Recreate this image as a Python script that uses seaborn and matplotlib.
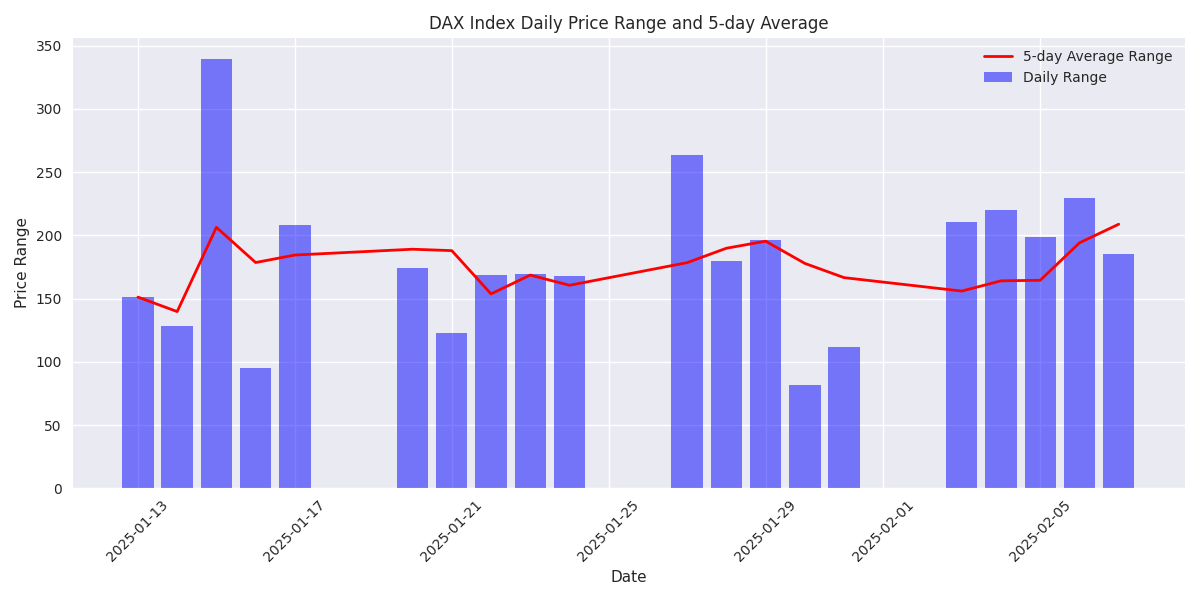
import pandas as pd
import matplotlib.pyplot as plt
import seaborn as sns

# Dados (dias úteis)
dates = ['2025-01-13', '2025-01-14', '2025-01-15', '2025-01-16', '2025-01-17',
         '2025-01-20', '2025-01-21', '2025-01-22', '2025-01-23', '2025-01-24',
         '2025-01-27', '2025-01-28', '2025-01-29', '2025-01-30', '2025-01-31',
         '2025-02-03', '2025-02-04', '2025-02-05', '2025-02-06', '2025-02-07']
daily_range = [151.2, 128.3, 339.7, 95.0, 208.2,
               174.2, 122.7, 168.6, 169.4, 167.9,
               263.7, 179.7, 196.4, 81.6, 111.6,
               210.6, 220.1, 198.7, 229.6, 185.3]

# Datas no fuso de Frankfurt
df = pd.DataFrame({'Date': pd.to_datetime(dates).tz_localize('Europe/Berlin'),
                   'Range': daily_range})
df['Avg5'] = df['Range'].rolling(5, min_periods=1).mean()

sns.set_style('darkgrid')
plt.rcParams.update({'axes.labelsize': 11, 'axes.titlesize': 12,
                     'legend.frameon': False, 'grid.linewidth': 1.0})
fig, ax = plt.subplots(figsize=(12, 6), dpi=100)

# Barras da variação diária
ax.bar(df['Date'], df['Range'], width=0.8, color='blue', alpha=0.5,
       edgecolor='none', label='Daily Range')

# Linha da média de 5 dias
ax.plot(df['Date'], df['Avg5'], color='red', linewidth=2, label='5-day Average Range')

ax.set_title('DAX Index Daily Price Range and 5-day Average')
ax.set_xlabel('Date')
ax.set_ylabel('Price Range')
plt.xticks(rotation=45)
ax.legend(loc='upper right')
plt.tight_layout()
plt.savefig('out.png')
